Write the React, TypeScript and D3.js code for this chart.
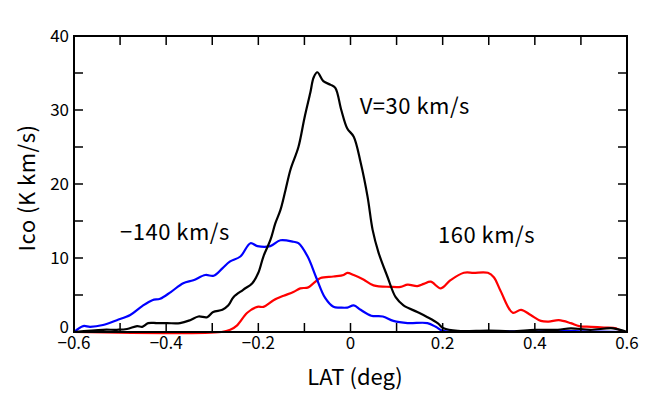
import React, { useEffect, useRef } from 'react';
import * as d3 from 'd3';

// latitude (deg) and Ico (K km/s), one pair of arrays per velocity
const latNeg140 = [-0.6, -0.58, -0.565, -0.537, -0.507, -0.478, -0.452, -0.43, -0.413, -0.39, -0.363, -0.341, -0.315, -0.297, -0.278, -0.262, -0.239, -0.217, -0.202, -0.174, -0.152, -0.124, -0.113, -0.093, -0.074, -0.055, -0.037, -0.022, -0.007, 0.007, 0.022, 0.045, 0.07, 0.093, 0.124, 0.167, 0.185, 0.2, 0.25, 0.3, 0.4, 0.5, 0.6];
const icoNeg140 = [0, 0.8, 0.7, 0.95, 1.6, 2.3, 3.5, 4.3, 4.5, 5.4, 6.6, 7.0, 7.7, 7.6, 8.6, 9.5, 10.2, 12.0, 11.6, 11.6, 12.4, 12.2, 12.0, 10.2, 7.3, 4.6, 3.4, 3.3, 3.3, 3.6, 3.0, 2.2, 2.1, 1.5, 1.2, 1.2, 0.7, 0.15, 0.1, 0.1, 0.1, 0.1, 0];

const lat30 = [-0.6, -0.537, -0.507, -0.485, -0.463, -0.452, -0.439, -0.42, -0.398, -0.37, -0.348, -0.33, -0.311, -0.298, -0.278, -0.265, -0.254, -0.233, -0.213, -0.2, -0.189, -0.174, -0.163, -0.152, -0.141, -0.13, -0.113, -0.1, -0.087, -0.08, -0.072, -0.059, -0.043, -0.033, -0.02, -0.007, 0.007, 0.022, 0.037, 0.048, 0.061, 0.08, 0.098, 0.115, 0.145, 0.167, 0.189, 0.202, 0.233, 0.3, 0.35, 0.4, 0.45, 0.478, 0.52, 0.57, 0.6];
const ico30 = [0, 0.3, 0.3, 0.4, 0.8, 0.7, 1.2, 1.2, 1.2, 1.2, 1.6, 2.1, 2.0, 2.7, 3.0, 3.6, 4.7, 5.7, 6.6, 8.0, 10.2, 12.4, 14.7, 16.5, 19.2, 22.0, 25.0, 28.9, 32.4, 34.4, 35.1, 33.9, 33.4, 33.0, 30.0, 27.5, 26.4, 22.9, 18.3, 13.8, 10.7, 7.5, 4.7, 3.6, 2.7, 2.0, 1.2, 0.5, 0.15, 0.2, 0.1, 0.3, 0.3, 0.5, 0.3, 0.5, 0];

const lat160 = [-0.6, -0.28, -0.261, -0.246, -0.224, -0.202, -0.189, -0.167, -0.145, -0.124, -0.109, -0.093, -0.08, -0.065, -0.037, -0.015, -0.007, 0.007, 0.028, 0.05, 0.087, 0.109, 0.124, 0.145, 0.159, 0.174, 0.196, 0.217, 0.246, 0.267, 0.298, 0.311, 0.326, 0.352, 0.37, 0.391, 0.413, 0.43, 0.452, 0.478, 0.496, 0.522, 0.55, 0.576, 0.59];
const ico160 = [0, 0, 0.3, 0.9, 2.6, 3.4, 3.4, 4.3, 4.9, 5.4, 5.9, 6.0, 6.6, 7.3, 7.5, 7.7, 8.0, 7.7, 7.1, 6.3, 6.1, 6.1, 6.4, 6.2, 6.5, 6.8, 5.9, 7.0, 8.0, 8.0, 8.0, 7.4, 5.5, 2.6, 3.0, 2.3, 1.5, 1.4, 1.6, 1.2, 0.8, 0.7, 0.6, 0.5, 0];

const xTickLabels = [-0.6, -0.4, -0.2, 0, 0.2, 0.4, 0.6];
const yTickLabels = [0, 10, 20, 30, 40];

const series = [
    { lat: lat160, ico: ico160, color: '#ff0000' },
    { lat: latNeg140, ico: icoNeg140, color: '#0000ff' },
    { lat: lat30, ico: ico30, color: '#000000' },
];

const notes = [
    { text: 'V=30 km/s', lat: 0.02, ico: 29.5 },
    { text: '\u2212140 km/s', lat: -0.5, ico: 12.5 },
    { text: '160 km/s', lat: 0.19, ico: 12.0 },
];

const FONT = '"Noto Sans CJK JP", "DejaVu Sans", sans-serif';

const App = () => {
    const ref = useRef<SVGSVGElement>(null);

    const graph = () => {
        const svg = d3.select(ref.current);
        svg.selectAll('*').remove();

        const left = 74, right = 627, top = 36, bottom = 332;
        const tick = 9;

        const x = d3.scaleLinear().domain([-0.6, 0.6]).range([left, right]);
        const y = d3.scaleLinear().domain([0, 40]).range([bottom, top]);

        const g = svg.append('g');

        // curves
        const line = d3.line<[number, number]>()
            .x(d => x(d[0]))
            .y(d => y(d[1]))
            .curve(d3.curveCatmullRom.alpha(0.5));

        series.forEach(s => {
            const pts = s.lat.map((v, i) => [v, s.ico[i]] as [number, number]);
            g.append('path')
                .attr('d', line(pts))
                .attr('fill', 'none')
                .attr('stroke', s.color)
                .attr('stroke-width', 2.2)
                .attr('stroke-linejoin', 'round');
        });

        // inward ticks on all four sides
        const xMinor = d3.range(-5, 6).map(i => i / 10);
        const yMinor = d3.range(1, 8).map(i => i * 5);
        const ticks = g.append('g').attr('stroke', '#000').attr('stroke-width', 1.5);
        xMinor.forEach(v => {
            ticks.append('line').attr('x1', x(v)).attr('x2', x(v)).attr('y1', bottom).attr('y2', bottom - tick);
            ticks.append('line').attr('x1', x(v)).attr('x2', x(v)).attr('y1', top).attr('y2', top + tick);
        });
        yMinor.forEach(v => {
            ticks.append('line').attr('x1', left).attr('x2', left + tick).attr('y1', y(v)).attr('y2', y(v));
            ticks.append('line').attr('x1', right).attr('x2', right - tick).attr('y1', y(v)).attr('y2', y(v));
        });

        g.append('rect')
            .attr('x', left).attr('y', top)
            .attr('width', right - left).attr('height', bottom - top)
            .attr('fill', 'none').attr('stroke', '#000').attr('stroke-width', 2);

        // tick labels
        const fmt = (v: number) => (v < 0 ? '\u2212' + String(-v) : String(v));
        g.append('g').selectAll('text').data(xTickLabels).enter().append('text')
            .attr('x', d => x(d)).attr('y', 349)
            .attr('text-anchor', 'middle')
            .style('font-family', FONT).style('font-size', '17px')
            .text(d => fmt(d));

        // the "0" sits a little higher so it clears the -0.6 below it
        g.append('g').selectAll('text').data(yTickLabels).enter().append('text')
            .attr('x', 69).attr('y', d => (d === 0 ? y(d) - 5 : y(d))).attr('dy', '0.36em')
            .attr('text-anchor', 'end')
            .style('font-family', FONT).style('font-size', '17px')
            .text(d => String(d));

        // axis titles
        g.append('text')
            .attr('x', 355).attr('y', 385)
            .attr('text-anchor', 'middle')
            .style('font-family', FONT).style('font-size', '22px')
            .text('LAT (deg)');

        g.append('text')
            .attr('transform', 'translate(35,188) rotate(-90)')
            .attr('text-anchor', 'middle')
            .style('font-family', FONT).style('font-size', '22px')
            .style('letter-spacing', '0.5px')
            .text('Ico (K km/s)');

        // velocity annotations
        g.append('g').selectAll('text').data(notes).enter().append('text')
            .attr('x', d => x(d.lat)).attr('y', d => y(d.ico))
            .style('font-family', FONT).style('font-size', '22px')
            .style('letter-spacing', '0.5px')
            .text(d => d.text);
    };

    useEffect(() => graph());

    return (
        <svg ref={ref} width="665" height="395" style={{ position: 'absolute', left: 0, top: 0, background: '#fff' }}></svg>
    );
};

export default App;
